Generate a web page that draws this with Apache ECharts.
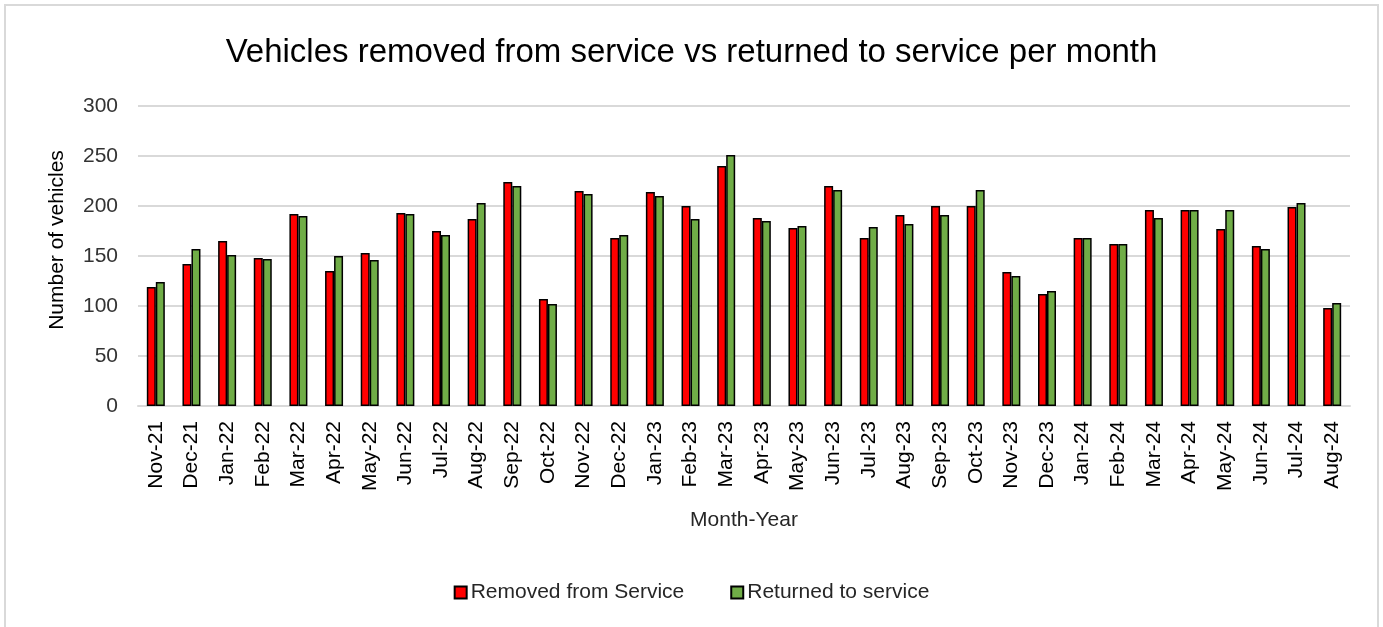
<!DOCTYPE html>
<html><head><meta charset="utf-8">
<script src="https://cdn.jsdelivr.net/npm/echarts@6/dist/echarts.min.js"></script>
<style>html,body{margin:0;padding:0;background:#fff}#c{width:1383px;height:627px}</style>
</head><body><div id="c"></div>
<script>
const categories = ['Nov-21','Dec-21','Jan-22','Feb-22','Mar-22','Apr-22','May-22','Jun-22','Jul-22','Aug-22','Sep-22','Oct-22','Nov-22','Dec-22','Jan-23','Feb-23','Mar-23','Apr-23','May-23','Jun-23','Jul-23','Aug-23','Sep-23','Oct-23','Nov-23','Dec-23','Jan-24','Feb-24','Mar-24','Apr-24','May-24','Jun-24','Jul-24','Aug-24'];
const removed = [119,142,165,148,192,135,153,193,175,187,224,107,215,168,214,200,240,188,178,220,168,191,200,200,134,112,168,162,196,196,177,160,199,98];
const returned = [124,157,151,147,190,150,146,192,171,203,220,102,212,171,210,187,251,185,180,216,179,182,191,216,130,115,168,162,188,196,196,157,203,103];
const yTicks = [0,50,100,150,200,250,300];

const font = '"Liberation Sans", Arial, sans-serif';
const chart = echarts.init(document.getElementById('c'), null, {renderer:'canvas'});
chart.setOption({
  animation:false,
  backgroundColor:'#fff',
  graphic:[{type:'rect',shape:{x:5,y:5,width:1373,height:640},style:{fill:'none',stroke:'#d9d9d9',lineWidth:2},silent:true}],
  title:{text:'Vehicles removed from service vs returned to service per month',left:'center',top:31,
    textStyle:{fontFamily:font,fontSize:33,fontWeight:'normal',color:'#000'}},
  legend:{bottom:19,left:'center',itemWidth:12,itemHeight:12,itemGap:46,icon:'rect',
    textStyle:{fontFamily:font,fontSize:21,color:'#262626',padding:[0,0,0,-1]},
    data:['Removed from Service','Returned to service']},
  grid:{left:138,right:33,top:106,bottom:221,containLabel:false},
  xAxis:{type:'category',data:categories,
    name:'Month-Year',nameLocation:'middle',nameGap:104,
    nameTextStyle:{fontFamily:font,fontSize:21,color:'#262626'},
    axisLine:{show:true,lineStyle:{color:'#d9d9d9',width:2}},
    axisTick:{show:false},
    axisLabel:{rotate:90,margin:15,interval:0,fontFamily:font,fontSize:21,color:'#000'}},
  yAxis:{type:'value',min:yTicks[0],max:yTicks[yTicks.length-1],interval:50,
    name:'Number of vehicles',nameLocation:'middle',nameGap:70,nameRotate:90,
    nameTextStyle:{fontFamily:font,fontSize:21,color:'#000',padding:[0,0,0,32]},
    axisLine:{show:false},axisTick:{show:false},
    axisLabel:{margin:20,fontFamily:font,fontSize:21,color:'#333'},
    splitLine:{lineStyle:{color:'#d9d9d9',width:2}}},
  series:[
    {name:'Removed from Service',type:'bar',data:removed,barWidth:9,barGap:'0%',
     itemStyle:{color:'#ff0000',borderColor:'#000',borderWidth:1.5}},
    {name:'Returned to service',type:'bar',data:returned,barWidth:9,barGap:'0%',
     itemStyle:{color:'#70ad47',borderColor:'#000',borderWidth:1.5}}
  ]
});
</script></body></html>
